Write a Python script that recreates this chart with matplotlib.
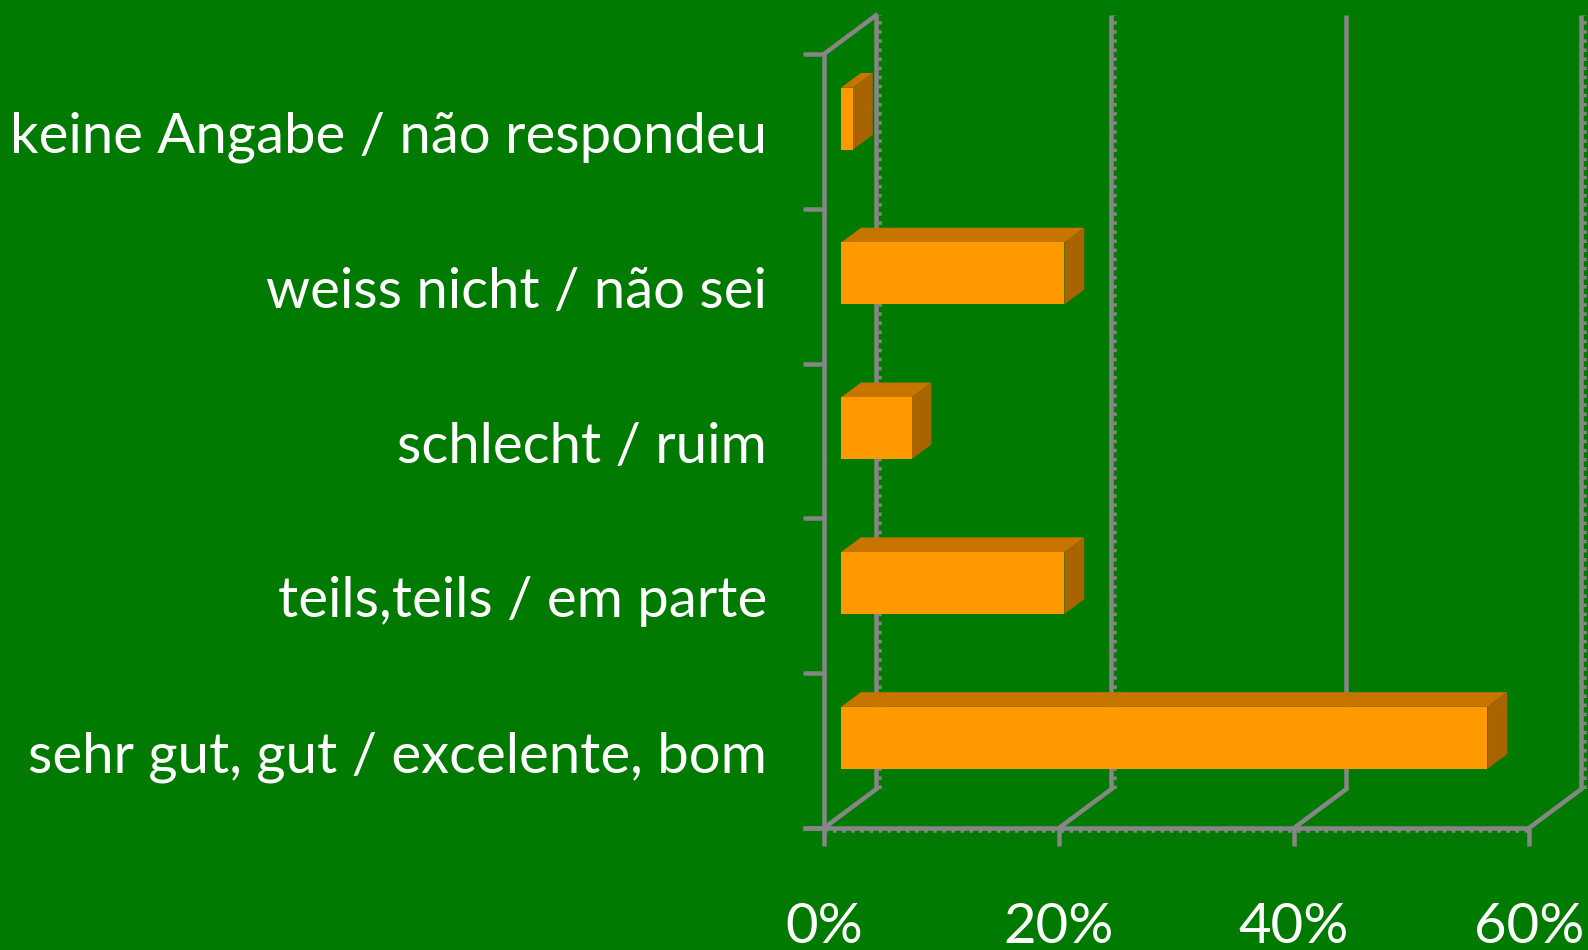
import matplotlib.pyplot as plt
from matplotlib.patches import Polygon

# categories bottom -> top
categories = ["sehr gut, gut / excelente, bom", "teils,teils / em parte",
              "schlecht / ruim", "weiss nicht / não sei",
              "keine Angabe / não respondeu"]
values = [55, 19, 6, 19, 1]
xticks = [0, 20, 40, 60]
xlabels = ["0%", "20%", "40%", "60%"]

BG = "#007A00"
GRID = "#868686"
FRONT = "#FF9900"
TOP = "#C87400"
SIDE = "#A86400"

# oblique depth vector in data units
DX, DY = 4.43, 0.25
F1, F2 = 0.33, 0.71  # bar front / back depth fraction
H = 0.4

fig = plt.figure(figsize=(15.88, 9.5), dpi=100, facecolor=BG)
ax = fig.add_axes([824 / 1588, 122 / 950, 705 / 1588, 774 / 950])
ax.set_xlim(0, 60)
ax.set_ylim(0, 5)
ax.axis("off")
ax.set_facecolor(BG)

n = len(categories)
px = 72 / 100  # points per pixel
lw = 4.5 * px
comb = dict(color=GRID, lw=3.5 * px, ls=(0, (1, 1.6)), clip_on=False)

# back wall gridlines + floor diagonals
for x in xticks:
    ax.plot([x + DX, x + DX], [DY, n + DY], color=GRID, lw=lw, clip_on=False, zorder=1,
            solid_capstyle="butt")
    ax.plot([x, x + DX], [0, DY], color=GRID, lw=lw, clip_on=False, zorder=1)
    if x != 40:
        ax.plot([x + DX + 0.33, x + DX + 0.33], [DY, n + DY], zorder=1, **comb)
# left wall top edge
ax.plot([0, DX], [n, n + DY], color=GRID, lw=lw, clip_on=False, zorder=1)

# front axes
ax.plot([0, 0], [0, n], color=GRID, lw=lw, clip_on=False, zorder=3, solid_capstyle="butt")
ax.plot([-1.75, 60], [0, 0], color=GRID, lw=lw, clip_on=False, zorder=3, solid_capstyle="butt")
ax.plot([0, 60], [-0.022, -0.022], zorder=3, **comb)
for i in range(n + 1):
    ax.plot([-1.75, 0], [i, i], color=GRID, lw=lw, clip_on=False, zorder=3,
            solid_capstyle="butt")
for x in xticks:
    ax.plot([x, x], [0, -0.115], color=GRID, lw=lw, clip_on=False, zorder=3,
            solid_capstyle="butt")

# bars
x0 = F1 * DX
ddx = (F2 - F1) * DX
ddy = (F2 - F1) * DY
for i, v in enumerate(values):
    yc = i + 0.5 + F1 * DY
    yb, yt = yc - H / 2, yc + H / 2
    top = Polygon([(x0, yt), (x0 + v, yt), (x0 + v + ddx, yt + ddy), (x0 + ddx, yt + ddy)],
                  closed=True, facecolor=TOP, edgecolor="none", zorder=4, clip_on=False)
    side = Polygon([(x0 + v, yb), (x0 + v, yt), (x0 + v + ddx, yt + ddy), (x0 + v + ddx, yb + ddy)],
                   closed=True, facecolor=SIDE, edgecolor="none", zorder=4, clip_on=False)
    ax.add_patch(top)
    ax.add_patch(side)
ax.barh([i + 0.5 + F1 * DY for i in range(n)], values, left=x0, height=H,
        color=FRONT, zorder=5, clip_on=False)

# labels
for i, c in enumerate(categories):
    ax.text(-4.85, i + 0.46, c, ha="right", va="center", color="white",
            fontsize=40.5, family=["Lato", "DejaVu Sans"])
for x, t in zip(xticks, xlabels):
    ax.text(x, -0.64, t, ha="center", va="center", color="white",
            fontsize=40.5, family=["Lato", "DejaVu Sans"])

fig.savefig("out.png", dpi=100, facecolor=BG)
